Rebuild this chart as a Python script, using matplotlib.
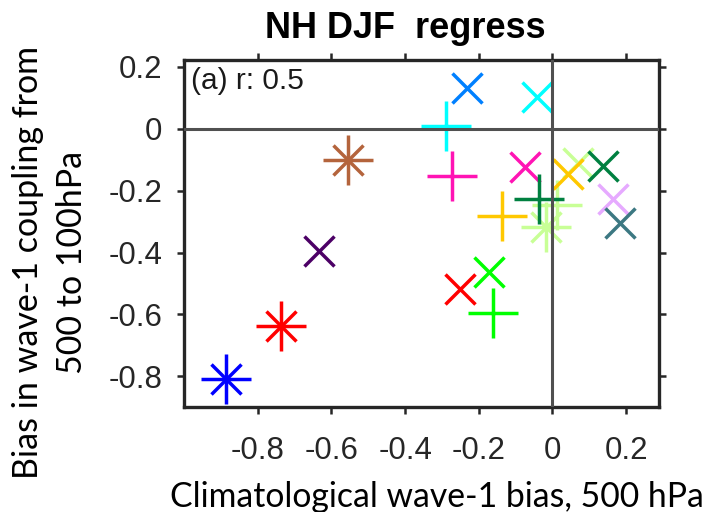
import matplotlib
matplotlib.use('Agg')
import matplotlib.pyplot as plt

# model points: climatological bias (x) vs coupling bias (y)
x_bias = [-0.887, -0.736, -0.556, -0.634, -0.233, -0.043, -0.289, -0.273, -0.075,
          0.013, -0.018, -0.036, -0.138, 0.068, 0.041, 0.138, 0.165, 0.183,
          -0.172, -0.252, -0.160]
y_bias = [-0.809, -0.637, -0.101, -0.395, 0.131, 0.102, 0.009, -0.153, -0.125,
          -0.245, -0.318, -0.226, -0.283, -0.112, -0.145, -0.121, -0.226, -0.305,
          -0.463, -0.517, -0.595]
symbols = ['*', '*', '*', 'x', 'x', 'x', '+', '+', 'x',
           '+', '*', '+', '+', 'x', 'x', 'x', 'x', 'x',
           'x', 'x', '+']
colors = ['#0000FF', '#FF0000', '#B4643C', '#4C0066', '#0080FF', '#00FFFF', '#00FFFF',
          '#FF14B4', '#FF14B4', '#C8FF96', '#C8FF96', '#008040', '#FFC800', '#C8FF96',
          '#FFC800', '#008040', '#E6AAFF', '#3C7882', '#00FF00', '#FF0000', '#00FF00']

ticks = [-0.8, -0.6, -0.4, -0.2, 0, 0.2]
tick_labels = ['-0.8', '-0.6', '-0.4', '-0.2', '0', '0.2']

plt.rcParams['font.family'] = 'Liberation Sans'

fig = plt.figure(figsize=(7.12, 5.12), dpi=100)
ax = fig.add_axes([0.2584, 0.2045, 0.6676, 0.6783])

for xi, yi, s, c in zip(x_bias, y_bias, symbols, colors):
    if s in ('+', '*'):
        ax.plot(xi, yi, '+', ms=36, mew=2.5, color=c)
    if s in ('x', '*'):
        ax.plot(xi, yi, 'x', ms=21, mew=2.5, color=c)

ax.axhline(0, color='#505050', lw=2.2, zorder=5)
ax.axvline(0, color='#505050', lw=2.2, zorder=5)

ax.set_xlim(-1.0, 0.29)
ax.set_ylim(-0.9, 0.222)
ax.set_xticks(ticks)
ax.set_xticklabels(tick_labels)
ax.set_yticks(ticks)
ax.set_yticklabels(tick_labels)
ax.tick_params(direction='out', length=4.7, width=1.8, color='#262626',
               top=True, right=True, labelsize=22.5, labelcolor='#262626')
ax.tick_params(axis='x', pad=16)
ax.tick_params(axis='y', pad=11)
for sp in ax.spines.values():
    sp.set_linewidth(2.4)
    sp.set_color('#262626')

fig.text(405.5 / 712, 1 - 38.3 / 512, 'NH DJF  regress', ha='center', va='baseline',
         fontsize=26, fontweight='bold')
fig.text(190.7 / 712, 1 - 89.3 / 512, '(a) r: 0.5', ha='left', va='baseline',
         fontsize=21.5, color='#1a1a1a')

fig.text(437 / 712, 1 - 507 / 512, 'Climatological wave-1 bias, 500 hPa',
         ha='center', va='baseline', fontsize=24.3, family='Lato')
fig.text(38.3 / 712, 1 - 262 / 512, 'Bias in wave-1 coupling from', rotation=90,
         rotation_mode='anchor', ha='center', va='baseline', fontsize=24.5, family='Lato')
fig.text(81.7 / 712, 1 - 262 / 512, '500 to 100hPa', rotation=90,
         rotation_mode='anchor', ha='center', va='baseline', fontsize=24.5, family='Lato')

fig.savefig('out.png', dpi=100)
